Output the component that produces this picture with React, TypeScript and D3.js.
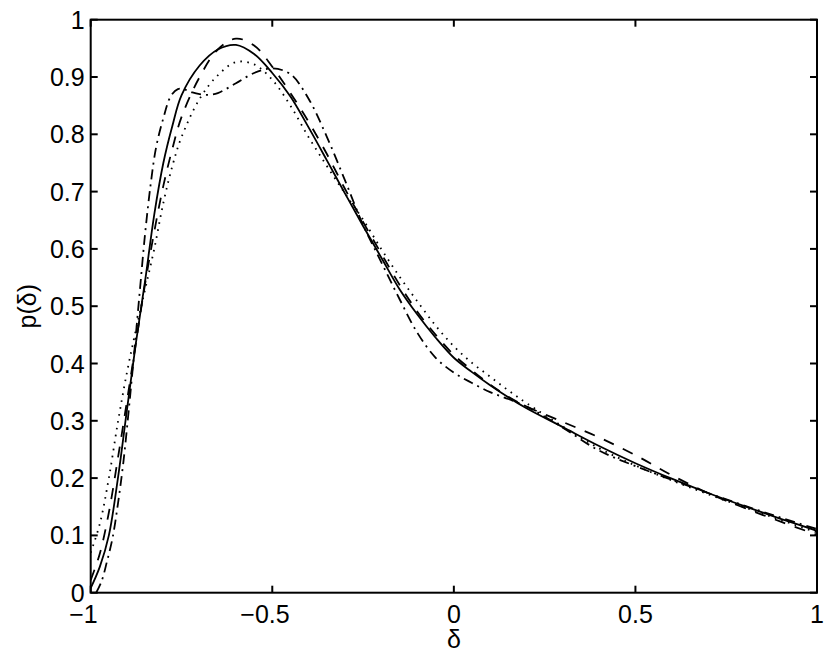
import React from "react";
import * as d3 from "d3";

const xTicks = [-1, -0.5, 0, 0.5, 1];
const yTicks = [0, 0.1, 0.2, 0.3, 0.4, 0.5, 0.6, 0.7, 0.8, 0.9, 1];
const xTickLabels = ["\u22121", "\u22120.5", "0", "0.5", "1"];
const yTickLabels = ["0", "0.1", "0.2", "0.3", "0.4", "0.5", "0.6", "0.7", "0.8", "0.9", "1"];
const xLabel = "\u03b4";
const yLabel = "p(\u03b4)";

const solid: [number, number][] = [
  [-1.0, 0.008], [-0.975, 0.045], [-0.95, 0.1], [-0.925, 0.2], [-0.9, 0.32],
  [-0.875, 0.438], [-0.85, 0.545], [-0.825, 0.66], [-0.8, 0.75], [-0.775, 0.815],
  [-0.75, 0.868], [-0.7, 0.92], [-0.65, 0.948], [-0.6, 0.956], [-0.55, 0.94],
  [-0.5, 0.907], [-0.45, 0.866], [-0.4, 0.812], [-0.35, 0.755], [-0.3, 0.697],
  [-0.25, 0.64], [-0.2, 0.585], [-0.15, 0.53], [-0.1, 0.485], [-0.05, 0.445],
  [0.0, 0.41], [0.05, 0.385], [0.1, 0.362], [0.15, 0.341], [0.2, 0.322],
  [0.3, 0.289], [0.4, 0.256], [0.5, 0.226], [0.6, 0.199], [0.7, 0.174],
  [0.8, 0.151], [0.9, 0.129], [1.0, 0.108],
];

const dashed: [number, number][] = [
  [-1.0, 0.022], [-0.975, 0.068], [-0.95, 0.14], [-0.925, 0.235], [-0.9, 0.335],
  [-0.875, 0.438], [-0.85, 0.54], [-0.825, 0.63], [-0.8, 0.71], [-0.775, 0.775],
  [-0.75, 0.83], [-0.7, 0.9], [-0.65, 0.948], [-0.6, 0.967], [-0.55, 0.955],
  [-0.5, 0.918], [-0.45, 0.872], [-0.4, 0.822], [-0.35, 0.766], [-0.3, 0.705],
  [-0.25, 0.647], [-0.2, 0.592], [-0.15, 0.538], [-0.1, 0.49], [-0.05, 0.45],
  [0.0, 0.415], [0.05, 0.388], [0.1, 0.363], [0.15, 0.342], [0.2, 0.325],
  [0.3, 0.298], [0.4, 0.271], [0.5, 0.24], [0.6, 0.205], [0.7, 0.174],
  [0.8, 0.148], [0.9, 0.124], [1.0, 0.101],
];

const dotted: [number, number][] = [
  [-1.0, 0.07], [-0.975, 0.12], [-0.95, 0.2], [-0.925, 0.298], [-0.9, 0.385],
  [-0.875, 0.46], [-0.85, 0.53], [-0.825, 0.6], [-0.8, 0.68], [-0.775, 0.745],
  [-0.75, 0.795], [-0.7, 0.862], [-0.65, 0.903], [-0.6, 0.926], [-0.55, 0.922],
  [-0.5, 0.895], [-0.45, 0.85], [-0.4, 0.795], [-0.35, 0.745], [-0.3, 0.697],
  [-0.25, 0.651], [-0.2, 0.6], [-0.15, 0.552], [-0.1, 0.508], [-0.05, 0.466],
  [0.0, 0.43], [0.05, 0.401], [0.1, 0.377], [0.15, 0.353], [0.2, 0.331],
  [0.3, 0.29], [0.4, 0.252], [0.5, 0.222], [0.6, 0.196], [0.7, 0.172],
  [0.8, 0.149], [0.9, 0.127], [1.0, 0.105],
];

const dashDot: [number, number][] = [
  [-0.985, 0.0], [-0.97, 0.02], [-0.955, 0.055], [-0.94, 0.095], [-0.925, 0.155],
  [-0.91, 0.228], [-0.895, 0.32], [-0.88, 0.42], [-0.865, 0.525], [-0.85, 0.628],
  [-0.835, 0.712], [-0.82, 0.777], [-0.8, 0.828], [-0.78, 0.866], [-0.76, 0.879],
  [-0.74, 0.878], [-0.72, 0.873], [-0.7, 0.87], [-0.675, 0.869], [-0.65, 0.872],
  [-0.6, 0.889], [-0.55, 0.907], [-0.5, 0.915], [-0.45, 0.905], [-0.4, 0.862],
  [-0.35, 0.796], [-0.3, 0.72], [-0.25, 0.642], [-0.2, 0.577], [-0.15, 0.513],
  [-0.1, 0.453], [-0.05, 0.41], [0.0, 0.384], [0.05, 0.366], [0.1, 0.35],
  [0.15, 0.338], [0.2, 0.325], [0.3, 0.288], [0.4, 0.248], [0.5, 0.221],
  [0.6, 0.197], [0.7, 0.174], [0.8, 0.152], [0.9, 0.131], [1.0, 0.111],
];

const series = [
  { name: "solid", data: solid, dash: "none" },
  { name: "dashed", data: dashed, dash: "11,10" },
  { name: "dotted", data: dotted, dash: "1.6,5.4" },
  { name: "dashdot", data: dashDot, dash: "10,5,2,5" },
];

const W = 830;
const H = 662;
const left = 90.7;
const right = 817;
const top = 19.7;
const bottom = 592.7;
const FONT = "'Liberation Sans', Arial, Helvetica, sans-serif";
const FS = 25;

// Arial/Liberation Sans advance widths (em)
function numWidth(s: string): number {
  let w = 0;
  for (const c of s) w += c === "." ? 0.278 : 0.556;
  return w * FS;
}

export default function App() {
  const x = d3.scaleLinear().domain([-1, 1]).range([left, right]);
  const y = d3.scaleLinear().domain([0, 1]).range([bottom, top]);
  const line = d3
    .line<[number, number]>()
    .x((d) => x(d[0]))
    .y((d) => y(d[1]))
    .curve(d3.curveCatmullRom.alpha(0.5));
  const tl = 7;

  return (
    <svg
      width={W}
      height={H}
      style={{ position: "absolute", left: 0, top: 0, background: "#fff" }}
      fontFamily={FONT}
    >
      <rect x={0} y={0} width={W} height={H} fill="#fff" />
      <defs>
        <clipPath id="plotclip">
          <rect x={left} y={top} width={right - left} height={bottom - top} />
        </clipPath>
      </defs>
      <g clipPath="url(#plotclip)">
        {series.map((s) => (
          <path
            key={s.name}
            d={line(s.data) || ""}
            fill="none"
            stroke="#000"
            strokeWidth={1.8}
            strokeDasharray={s.dash}
          />
        ))}
      </g>
      {/* box */}
      <rect
        x={left}
        y={top}
        width={right - left}
        height={bottom - top}
        fill="none"
        stroke="#000"
        strokeWidth={2}
      />
      {/* x ticks */}
      {xTicks.map((t, i) => (
        <g key={"xt" + i}>
          <line x1={x(t)} x2={x(t)} y1={bottom} y2={bottom - tl} stroke="#000" strokeWidth={2} />
          <line x1={x(t)} x2={x(t)} y1={top} y2={top + tl} stroke="#000" strokeWidth={2} />
          {t < 0 ? (
            <text
              x={x(t) + numWidth(xTickLabels[i].slice(1)) / 2}
              y={bottom + 30}
              fontSize={FS}
              textAnchor="end"
            >
              {xTickLabels[i]}
            </text>
          ) : (
            <text x={x(t)} y={bottom + 30} fontSize={FS} textAnchor="middle">
              {xTickLabels[i]}
            </text>
          )}
        </g>
      ))}
      {/* y ticks */}
      {yTicks.map((t, i) => (
        <g key={"yt" + i}>
          <line x1={left} x2={left + tl} y1={y(t)} y2={y(t)} stroke="#000" strokeWidth={2} />
          <line x1={right} x2={right - tl} y1={y(t)} y2={y(t)} stroke="#000" strokeWidth={2} />
          <text x={left - 6} y={y(t) + 9} fontSize={FS} textAnchor="end">
            {yTickLabels[i]}
          </text>
        </g>
      ))}
      <text x={(left + right) / 2} y={648} fontSize={FS} textAnchor="middle">
        {xLabel}
      </text>
      <text
        transform={`translate(36, ${(top + bottom) / 2}) rotate(-90)`}
        fontSize={FS}
        textAnchor="middle"
      >
        {yLabel}
      </text>
    </svg>
  );
}
